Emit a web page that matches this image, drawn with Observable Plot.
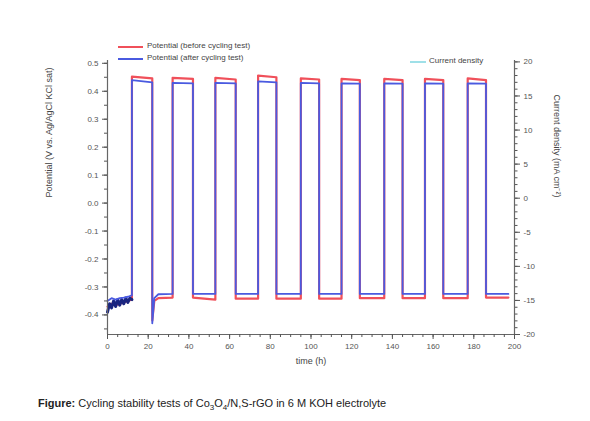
<!DOCTYPE html>
<html><head><meta charset="utf-8">
<script src="https://cdn.jsdelivr.net/npm/d3@7"></script>
<script src="https://cdn.jsdelivr.net/npm/@observablehq/plot@0.6"></script>
<style>
body{margin:0;background:#fff;font-family:"Liberation Sans",Arial,sans-serif;}
#wrap{position:relative;width:590px;height:421px;}
.leg{position:absolute;font-size:8px;color:#444;white-space:nowrap;}
.sw{position:absolute;height:2px;}
#cap{position:absolute;left:38px;top:397px;font-size:11px;color:#222;}
</style></head><body>
<div id="wrap">
<div id="chart"></div>
<div class="sw" style="left:118px;top:46px;width:25px;background:#f0505a"></div>
<div class="leg" style="left:147px;top:41px">Potential (before cycling test)</div>
<div class="sw" style="left:118px;top:58px;width:25px;background:#4a5ae0"></div>
<div class="leg" style="left:147px;top:53px">Potential (after cycling test)</div>
<div class="sw" style="left:410px;top:61px;width:16px;background:#9fe0e8"></div>
<div class="leg" style="left:429px;top:56px">Current density</div>
<div id="cap"><b>Figure:</b> Cycling stability tests of Co<sub style="font-size:8px">3</sub>O<sub style="font-size:8px">4</sub>/N,S-rGO in 6 M KOH electrolyte</div>
</div>
<script>
// time (h) and potential (V) for blue curve
const blueT = [0, 2, 4, 6, 8, 10, 12, 12, 22, 22, 23, 25, 32, 32, 42, 42, 53, 53, 63, 63, 74, 74, 83, 83, 95, 95, 104, 104, 115, 115, 124, 124, 136, 136, 145, 145, 156, 156, 165, 165, 177, 177, 186, 186, 197];
const blueV = [-0.35, -0.34, -0.345, -0.34, -0.338, -0.335, -0.33, 0.44, 0.432, -0.43, -0.34, -0.326, -0.325, 0.43, 0.428, -0.325, -0.325, 0.43, 0.428, -0.325, -0.325, 0.435, 0.432, -0.325, -0.325, 0.43, 0.428, -0.325, -0.325, 0.428, 0.427, -0.325, -0.325, 0.428, 0.427, -0.325, -0.325, 0.428, 0.427, -0.325, -0.325, 0.428, 0.427, -0.325, -0.325];
// red curve
const redT = [0, 2, 4, 6, 8, 10, 12, 12, 22, 22, 23, 25, 32, 32, 42, 42, 53, 53, 63, 63, 74, 74, 83, 83, 95, 95, 104, 104, 115, 115, 124, 124, 136, 136, 145, 145, 156, 156, 165, 165, 177, 177, 186, 186, 197];
const redV = [-0.37, -0.36, -0.365, -0.36, -0.355, -0.35, -0.345, 0.452, 0.446, -0.42, -0.35, -0.34, -0.338, 0.448, 0.444, -0.338, -0.345, 0.448, 0.442, -0.342, -0.342, 0.456, 0.45, -0.342, -0.342, 0.446, 0.442, -0.342, -0.342, 0.444, 0.44, -0.34, -0.34, 0.444, 0.44, -0.34, -0.34, 0.444, 0.44, -0.34, -0.34, 0.446, 0.44, -0.338, -0.338];
// initial noisy segment (dark)
const darkT = [0, 1, 2, 3, 4, 5, 6, 7, 8, 9, 10, 11, 12];
const darkV = [-0.39, -0.36, -0.375, -0.35, -0.37, -0.345, -0.365, -0.345, -0.36, -0.34, -0.355, -0.34, -0.345];

const xTicks = [0, 20, 40, 60, 80, 100, 120, 140, 160, 180, 200];
const yTicks = [-0.4, -0.3, -0.2, -0.1, 0.0, 0.1, 0.2, 0.3, 0.4, 0.5];
const yLabels = ["-0.4", "-0.3", "-0.2", "-0.1", "0.0", "0.1", "0.2", "0.3", "0.4", "0.5"];
const cTicks = [-20, -15, -10, -5, 0, 5, 10, 15, 20];

const yMin = -0.47, yMax = 0.51;
// current density axis: 20 at top, -20 at bottom
const cToV = c => yMin + (c + 20) / 40 * (yMax - yMin - 0.005);

const blue = blueT.map((t, i) => ({t, v: blueV[i]}));
const red = redT.map((t, i) => ({t, v: redV[i]}));
const dark = darkT.map((t, i) => ({t, v: darkV[i]}));
const cLab = new Map(cTicks.map(c => [cToV(c), String(c)]));
const cMinor = d3.range(-20, 20.01, 1).map(c => cToV(c));
const yLab = new Map(yTicks.map((v, i) => [v, yLabels[i]]));

const chart = Plot.plot({
  width: 590, height: 385,
  marginLeft: 107, marginRight: 76, marginTop: 60, marginBottom: 51,
  style: {fontFamily: "Liberation Sans, Arial, sans-serif", fontSize: "8px", color: "#555"},
  x: {type: "linear", domain: [0, 200]},
  y: {type: "linear", domain: [yMin, yMax]},
  marks: [
    Plot.line(red, {x: "t", y: "v", stroke: "#f0505a", strokeWidth: 2.2}),
    Plot.line(dark, {x: "t", y: "v", stroke: "#1a2580", strokeWidth: 3}),
    Plot.line(blue, {x: "t", y: "v", stroke: "#4a5ae0", strokeWidth: 1.8}),
    Plot.ruleX([0], {stroke: "#666", strokeWidth: 1.2}),
    Plot.ruleX([200], {stroke: "#666", strokeWidth: 1.2}),
    Plot.ruleY([yMin], {stroke: "#666", strokeWidth: 1.2}),
    Plot.axisX({ticks: xTicks, tickSize: 5, tickPadding: 4, label: null, tickFormat: d => d}),
    Plot.axisX({ticks: d3.range(0, 201, 5), tickSize: 3, label: null, tickFormat: () => ""}),
    Plot.axisY({ticks: yTicks, tickSize: 5, tickPadding: 4, label: null, tickFormat: v => yLab.get(v)}),
    Plot.axisY({ticks: d3.range(-0.45, 0.51, 0.05), tickSize: 3, label: null, tickFormat: () => ""}),
    Plot.axisY({anchor: "right", ticks: [...cLab.keys()], tickSize: 5, tickPadding: 4, label: null, tickFormat: v => cLab.get(v)}),
    Plot.axisY({anchor: "right", ticks: cMinor, tickSize: 2.5, label: null, tickFormat: () => ""}),
    Plot.text(["time (h)"], {frameAnchor: "bottom", dy: 29, fontSize: 9, fill: "#444"}),
    Plot.text(["Potential (V vs. Ag/AgCl KCl sat)"], {frameAnchor: "left", dx: -58, rotate: -90, fontSize: 9, fill: "#444"}),
    Plot.text(["Current density (mA cm⁻²)"], {frameAnchor: "right", dx: 42, rotate: 90, fontSize: 9, fill: "#444"})
  ]
});
document.getElementById("chart").appendChild(chart);
</script>
</body></html>
